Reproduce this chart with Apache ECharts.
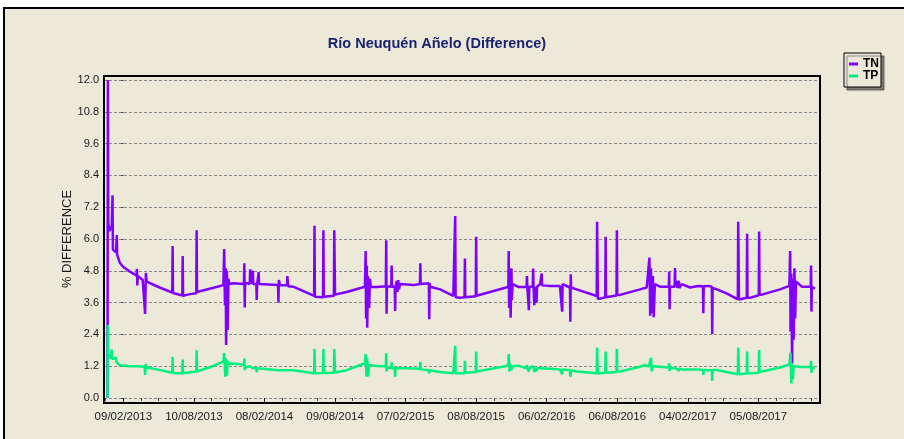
<!DOCTYPE html>
<html>
<head>
<meta charset="utf-8">
<script src="https://cdn.jsdelivr.net/npm/echarts@6/dist/echarts.min.js"></script>
<style>
  html, body { margin: 0; padding: 0; background: #fff; }
  #chart { width: 904px; height: 439px; }
</style>
</head>
<body>
<div id="chart"></div>
<script>
// x values are days counted from 09/02/2013
const xTickDays = [0, 182, 364, 546, 728, 910, 1092, 1274, 1456, 1638]
const xTickLabels = ['09/02/2013', '10/08/2013', '08/02/2014', '09/08/2014', '07/02/2015',
  '08/08/2015', '06/02/2016', '06/08/2016', '04/02/2017', '05/08/2017']
const xMinorDays = [-45.5, 45.5, 91, 136.5, 227.5, 273, 318.5, 409.5, 455, 500.5, 591.5, 637, 682.5,
  773.5, 819, 864.5, 955.5, 1001, 1046.5, 1137.5, 1183, 1228.5, 1319.5, 1365, 1410.5,
  1501.5, 1547, 1592.5, 1683.5, 1729, 1774.5]
const yTicks = [0, 1.2, 2.4, 3.6, 4.8, 6.0, 7.2, 8.4, 9.6, 10.8, 12.0]

const tnData = [
  [-41, 0], [-40, 12.0], [-39, 6.6], [-36, 6.3], [-30, 6.5], [-28, 7.65], [-27, 5.6], [-24, 5.6],
  [-19, 5.5], [-17, 6.15], [-16, 5.4], [-9, 5.1], [-1, 4.95], [17, 4.77], [34, 4.62], [35, 4.87],
  [36, 4.25], [37, 4.6], [50, 4.45], [55, 4.4], [56, 3.17], [58, 4.72], [60, 4.4], [69, 4.33],
  [95, 4.16], [126, 3.98], [127, 5.74], [128, 3.96], [152, 3.87], [153, 5.36], [154, 3.86],
  [172, 3.92], [188, 3.95], [189, 6.33], [190, 4.0], [230, 4.15], [258, 4.26], [260, 5.62],
  [262, 3.5], [264, 4.9], [265, 2.0], [267, 4.8], [269, 2.57], [271, 4.5], [273, 4.3],
  [284, 4.33], [311, 4.3], [312, 5.08], [313, 3.42], [314, 4.35], [326, 4.3], [327, 4.86],
  [328, 4.3], [333, 4.3], [334, 4.8], [335, 4.3], [343, 4.3], [344, 3.7], [345, 4.3],
  [348, 4.3], [349, 4.75], [350, 4.3], [399, 4.26], [400, 3.6], [401, 4.45], [404, 4.26],
  [422, 4.25], [423, 4.6], [425, 4.22], [438, 4.2], [492, 3.85], [493, 6.5], [494, 3.82],
  [515, 3.8], [516, 6.33], [517, 3.82], [543, 3.86], [544, 6.33], [546, 3.9], [576, 4.0],
  [623, 4.2], [625, 5.55], [626, 3.0], [628, 5.0], [629, 2.65], [631, 4.6], [634, 3.4],
  [636, 4.5], [638, 4.2], [654, 4.19], [677, 4.22], [678, 5.95], [679, 3.18], [680, 4.22],
  [691, 4.2], [692, 5.0], [693, 4.2], [700, 4.2], [701, 3.28], [702, 4.2], [705, 4.42],
  [707, 4.0], [709, 4.45], [711, 4.1], [714, 4.3], [748, 4.26], [765, 4.3], [766, 5.08],
  [767, 4.3], [788, 4.33], [789, 2.97], [790, 4.33], [791, 4.2], [817, 4.1], [851, 3.85],
  [855, 3.84], [856, 6.87], [857, 3.8], [868, 3.78], [880, 3.8], [881, 5.26], [882, 3.8],
  [886, 3.8], [909, 3.84], [910, 6.08], [911, 3.86], [916, 3.86], [985, 4.16], [993, 4.2],
  [994, 5.55], [995, 3.4], [997, 4.7], [999, 3.03], [1001, 4.9], [1002, 3.7], [1004, 4.3],
  [1019, 4.19], [1040, 4.2], [1041, 4.6], [1042, 4.2], [1045, 4.2], [1046, 3.31], [1047, 4.2],
  [1056, 4.2], [1057, 4.89], [1058, 4.2], [1060, 3.5], [1061, 4.2], [1065, 4.2], [1066, 3.6],
  [1067, 4.2], [1075, 4.3], [1078, 4.25], [1079, 4.7], [1080, 4.25], [1101, 4.23],
  [1126, 4.23], [1131, 4.22], [1132, 3.26], [1133, 4.3], [1152, 4.17], [1153, 2.88],
  [1154, 4.67], [1155, 4.17], [1169, 4.1], [1221, 3.85], [1222, 6.65], [1224, 3.75],
  [1230, 3.75], [1243, 3.8], [1244, 6.08], [1245, 3.8], [1272, 3.87], [1273, 6.33],
  [1274, 3.89], [1281, 3.89], [1333, 4.1], [1350, 4.17], [1355, 4.15], [1357, 5.3],
  [1359, 3.1], [1361, 4.9], [1363, 3.2], [1366, 4.6], [1368, 3.05], [1371, 4.3], [1384, 4.2],
  [1407, 4.2], [1408, 4.77], [1409, 3.35], [1410, 4.2], [1422, 4.2], [1423, 4.9], [1424, 4.2],
  [1427, 4.18], [1428, 4.42], [1429, 4.15], [1432, 4.15], [1433, 4.42], [1434, 4.15],
  [1440, 4.3], [1462, 4.17], [1483, 4.23], [1495, 4.22], [1496, 3.2], [1497, 4.22],
  [1509, 4.23], [1518, 4.2], [1519, 2.42], [1520, 4.15], [1531, 4.1], [1556, 3.95],
  [1585, 3.72], [1586, 6.65], [1588, 3.72], [1591, 3.74], [1608, 3.78], [1609, 6.2],
  [1610, 3.78], [1616, 3.78], [1639, 3.88], [1640, 6.28], [1641, 3.9], [1647, 3.9],
  [1694, 4.1], [1718, 4.23], [1720, 5.55], [1721, 2.5], [1723, 4.7], [1725, 1.3], [1727, 4.5],
  [1729, 2.2], [1731, 4.9], [1733, 3.0], [1735, 4.4], [1750, 4.2], [1773, 4.2], [1774, 5.0],
  [1775, 3.26], [1776, 4.2], [1784, 4.12]
]

const tpData = [
  [-41, 0], [-40, 2.75], [-39, 1.65], [-33, 1.5], [-30, 1.83], [-29, 1.47], [-27, 1.45],
  [-19, 1.52], [-18, 1.35], [-9, 1.24], [17, 1.2], [35, 1.2], [55, 1.18], [56, 0.87],
  [58, 1.28], [60, 1.15], [86, 1.08], [126, 0.95], [127, 1.55], [128, 0.94], [152, 0.93],
  [153, 1.45], [154, 0.93], [188, 1.0], [189, 1.8], [190, 1.0], [230, 1.2], [258, 1.37],
  [260, 1.7], [263, 0.8], [265, 1.5], [267, 0.85], [269, 1.4], [271, 1.28], [284, 1.3],
  [311, 1.25], [312, 1.49], [313, 1.05], [314, 1.15], [327, 1.2], [334, 1.12], [343, 1.12],
  [344, 0.98], [345, 1.12], [349, 1.15], [350, 1.08], [400, 1.05], [404, 1.08], [438, 1.05],
  [492, 0.93], [493, 1.85], [494, 0.93], [515, 0.94], [516, 1.85], [517, 0.94], [543, 0.95],
  [544, 1.85], [546, 0.96], [576, 1.05], [623, 1.31], [625, 1.66], [627, 0.8], [629, 1.5],
  [631, 0.82], [634, 1.25], [654, 1.21], [677, 1.2], [678, 1.69], [679, 1.0], [680, 1.15],
  [691, 1.14], [692, 1.35], [693, 1.12], [700, 1.12], [701, 0.8], [702, 1.12], [705, 1.18],
  [714, 1.13], [765, 1.1], [766, 1.37], [767, 1.08], [788, 1.05], [789, 0.93], [790, 1.05],
  [817, 0.98], [851, 0.93], [855, 0.93], [856, 1.97], [857, 0.93], [868, 0.93], [880, 0.93],
  [881, 1.4], [882, 0.95], [909, 0.98], [910, 1.75], [911, 1.0], [985, 1.2], [993, 1.25],
  [994, 1.66], [996, 1.0], [998, 1.3], [1000, 1.05], [1004, 1.2], [1019, 1.22], [1040, 1.12],
  [1041, 1.25], [1042, 1.12], [1045, 1.12], [1046, 1.0], [1047, 1.12], [1057, 1.2],
  [1059, 1.12], [1060, 0.98], [1061, 1.12], [1065, 1.12], [1066, 1.02], [1067, 1.12],
  [1075, 1.12], [1101, 1.1], [1126, 1.08], [1131, 1.08], [1132, 0.9], [1133, 1.08],
  [1152, 1.05], [1153, 0.8], [1155, 1.05], [1169, 1.0], [1221, 0.93], [1222, 1.9],
  [1224, 0.92], [1243, 0.95], [1244, 1.75], [1245, 0.95], [1272, 0.98], [1273, 1.85],
  [1274, 1.0], [1281, 1.0], [1333, 1.18], [1346, 1.25], [1355, 1.18], [1360, 1.18],
  [1361, 1.52], [1363, 1.0], [1366, 1.2], [1384, 1.18], [1407, 1.15], [1408, 1.31],
  [1409, 1.02], [1410, 1.12], [1422, 1.12], [1423, 1.05], [1424, 1.12], [1428, 1.1],
  [1432, 1.12], [1433, 1.02], [1434, 1.12], [1440, 1.08], [1462, 1.08], [1483, 1.08],
  [1495, 1.06], [1496, 0.87], [1497, 1.06], [1518, 1.05], [1519, 0.65], [1520, 1.06],
  [1531, 1.06], [1556, 0.98], [1585, 0.9], [1586, 1.9], [1588, 0.9], [1608, 0.92],
  [1609, 1.75], [1610, 0.92], [1639, 0.95], [1640, 1.81], [1641, 0.97], [1647, 1.0],
  [1694, 1.15], [1718, 1.27], [1720, 1.27], [1721, 1.71], [1723, 0.55], [1725, 1.3],
  [1727, 0.7], [1729, 1.2], [1750, 1.17], [1773, 1.17], [1774, 1.4], [1775, 0.95],
  [1776, 1.15], [1784, 1.12]
]

const chart = echarts.init(document.getElementById('chart'))
const font = 'Arial, "Liberation Sans", sans-serif'
const gridBox = { left: 104, right: 84, top: 80, bottom: 41 }

const option = {
  backgroundColor: '#ffffff',
  animation: false,
  textStyle: { fontFamily: font },
  graphic: [
    {
      type: 'rect',
      z: -10,
      shape: { x: 4, y: 8, width: 1000, height: 1000 },
      style: { fill: '#ece9d8', stroke: '#000', lineWidth: 2 }
    },
    {
      type: 'rect',
      z: 100,
      shape: { x: 104, y: 76, width: 716, height: 327 },
      style: { fill: 'none', stroke: '#000', lineWidth: 2 }
    }
  ],
  title: {
    text: 'Río Neuquén Añelo (Difference)',
    left: 432,
    top: 31,
    textAlign: 'center',
    textStyle: { fontFamily: font, fontSize: 14.5, fontWeight: 'bold', color: '#1a2370' }
  },
  legend: {
    orient: 'vertical',
    left: 844,
    top: 53,
    icon: 'rect',
    itemWidth: 9,
    itemHeight: 3,
    itemGap: 0,
    itemTextGap: 5,
    padding: [5, 2, 5, 5],
    borderColor: '#000',
    borderWidth: 1,
    backgroundColor: '#ece9d8',
    shadowColor: 'rgba(0,0,0,0.45)',
    shadowBlur: 1,
    shadowOffsetX: 3,
    shadowOffsetY: 3,
    textStyle: { fontFamily: font, fontSize: 12, fontWeight: 'bold', color: '#000', lineHeight: 12 },
    data: ['TN', 'TP']
  },
  grid: [
    Object.assign({ containLabel: false }, gridBox),
    Object.assign({ containLabel: false }, gridBox)
  ],
  xAxis: [
    {
      type: 'value',
      gridIndex: 0,
      min: -50,
      max: 1797,
      offset: 6,
      axisLine: { show: false },
      axisTick: { show: true, customValues: xTickDays, length: 5, lineStyle: { color: '#222' } },
      axisLabel: {
        customValues: xTickDays,
        margin: 7,
        fontSize: 11.5,
        color: '#1a1a1a',
        formatter: function(v) {
          const i = xTickDays.indexOf(Math.round(v))
          return i >= 0 ? xTickLabels[i] : ''
        }
      },
      splitLine: { show: false }
    },
    {
      type: 'value',
      gridIndex: 1,
      min: -50,
      max: 1797,
      offset: 6,
      axisLine: { show: false },
      axisTick: { show: true, customValues: xMinorDays, length: 3, lineStyle: { color: '#444' } },
      axisLabel: { show: false },
      splitLine: { show: false }
    }
  ],
  yAxis: [
    {
      type: 'value',
      gridIndex: 0,
      min: 0,
      max: 12,
      interval: 1.2,
      name: '% DIFFERENCE',
      nameLocation: 'middle',
      nameGap: 30,
      nameMoveOverlap: false,
      nameTextStyle: { fontFamily: font, fontSize: 13, color: '#1a1a1a' },
      axisLine: { show: false },
      axisTick: { show: true, length: 2, lineStyle: { color: '#333' } },
      axisLabel: {
        margin: 5,
        fontSize: 11,
        color: '#1a1a1a',
        formatter: function(v) {
          const t = yTicks.find(function(k) { return Math.abs(k - v) < 0.01 })
          return t === undefined ? '' : t.toFixed(1)
        }
      },
      splitLine: { show: true, lineStyle: { type: [3, 2], color: '#8a8a8a', width: 1 } }
    },
    {
      type: 'value',
      gridIndex: 1,
      min: 0,
      max: 12,
      show: false
    }
  ],
  series: [
    {
      name: 'TN',
      type: 'line',
      xAxisIndex: 0,
      yAxisIndex: 0,
      showSymbol: false,
      symbol: 'none',
      color: '#8000ff',
      lineStyle: { color: '#8000ff', width: 2.5 },
      data: tnData
    },
    {
      name: 'TP',
      type: 'line',
      xAxisIndex: 0,
      yAxisIndex: 0,
      showSymbol: false,
      symbol: 'none',
      color: '#00f080',
      lineStyle: { color: '#00f080', width: 2.5 },
      data: tpData
    }
  ]
}

chart.setOption(option)
</script>
</body>
</html>
